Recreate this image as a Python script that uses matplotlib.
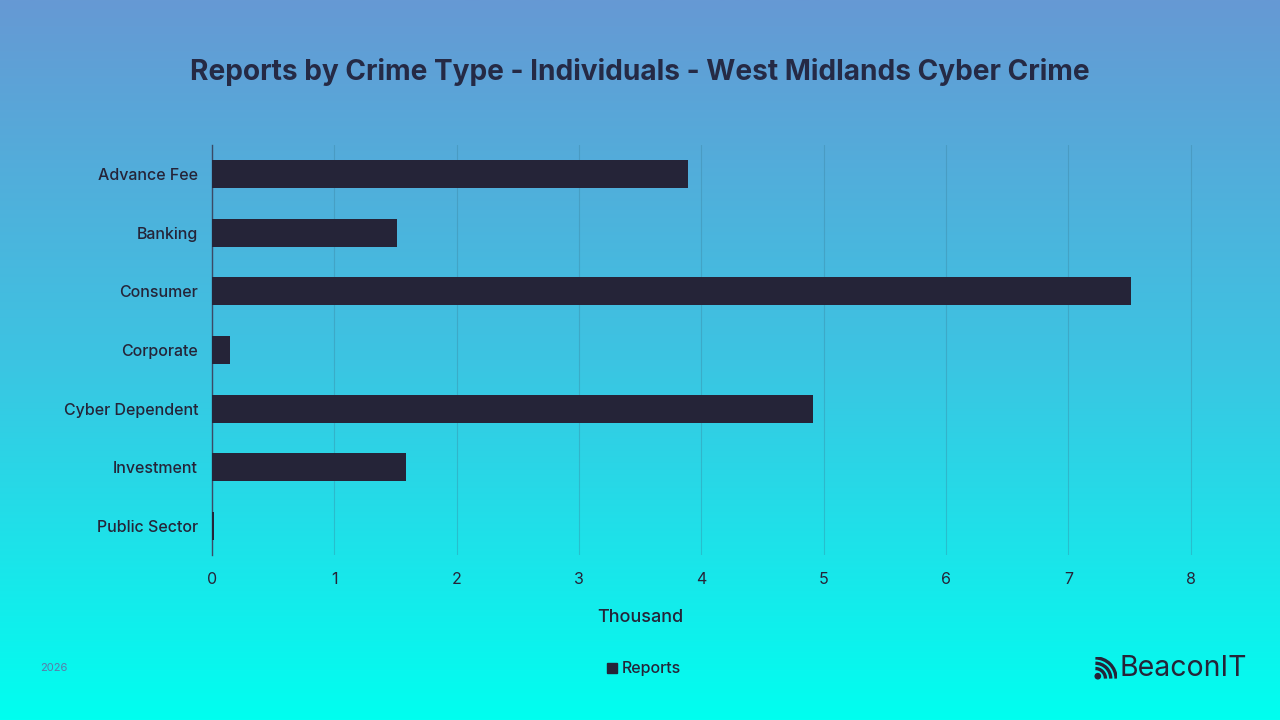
import numpy as np
import matplotlib.pyplot as plt
from matplotlib.patches import Arc, Circle

# ----------------------------------------------------------
# Data (thousands of reports)
# ----------------------------------------------------------
categories = ["Advance Fee", "Banking", "Consumer", "Corporate",
              "Cyber Dependent", "Investment", "Public Sector"]
reports = [3.89, 1.51, 7.51, 0.147, 4.91, 1.585, 0.016]
x_ticks = [0, 1, 2, 3, 4, 5, 6, 7, 8]

title = "Reports by Crime Type - Individuals - West Midlands Cyber Crime"
dark = "#252438"
plt.rcParams['font.family'] = ['Inter', 'DejaVu Sans']

fig = plt.figure(figsize=(12.8, 7.2), dpi=100)

# ----------------------------------------------------------
# Background gradient
# ----------------------------------------------------------
bg = fig.add_axes([0, 0, 1, 1], zorder=-10)
top = np.array([102, 153, 212]) / 255
mid = np.array([60, 196, 226]) / 255
bot = np.array([0, 255, 240]) / 255
t = np.linspace(0, 1, 400)[:, None]
grad = np.where(t < 0.5, top + (mid - top) * (t / 0.5), mid + (bot - mid) * ((t - 0.5) / 0.5))
bg.imshow(grad[:, None, :], aspect='auto', extent=[0, 1, 0, 1])
bg.set_axis_off()

# ----------------------------------------------------------
# Bars
# ----------------------------------------------------------
ax = fig.add_axes([212 / 1280, 1 - 555 / 720, 1040 / 1280, 410 / 720])
ax.patch.set_alpha(0)
y = np.arange(len(categories))
ax.barh(y, reports, height=0.48, color=dark, zorder=3)
ax.set_ylim(len(categories) - 0.5, -0.5)
ax.set_xlim(0, 8.5)
ax.set_yticks(y)
ax.set_yticklabels(categories, fontsize=11.5, color=dark, fontweight='medium')
ax.set_xticks(x_ticks)
ax.set_xticklabels([str(v) for v in x_ticks], fontsize=11.5, color=dark)
ax.tick_params(length=0, pad=10, axis='y')
ax.tick_params(length=0, pad=12, axis='x')
ax.grid(axis='x', color='#3a7f9a', alpha=0.35, linewidth=0.8, zorder=0)
for s in ['top', 'right', 'bottom']:
    ax.spines[s].set_visible(False)
ax.spines['left'].set_color('#3b4a66')
ax.spines['left'].set_linewidth(1)

# ----------------------------------------------------------
# Title, axis label, footer, legend, logo
# ----------------------------------------------------------
fig.text(0.5, 1 - 72 / 720, title, ha='center', va='center',
         fontsize=20.2, fontweight='bold', color='#252a45')
fig.text(0.5, 1 - 618 / 720, "Thousand", ha='center', va='center',
         fontsize=13, color=dark, fontweight='medium')
fig.text(40 / 1280, 1 - 668 / 720, "2026", ha='left', va='center',
         fontsize=8, color='#5a7aa8')
fig.patches.append(plt.Rectangle((607 / 1280, 1 - 673 / 720), 10 / 1280, 10 / 720,
                                 transform=fig.transFigure, color=dark))
fig.text(622 / 1280, 1 - 668 / 720, "Reports", ha='left', va='center',
         fontsize=11.5, color=dark, fontweight='medium')

# logo icon
lg = fig.add_axes([1093 / 1280, 1 - 681 / 720, 24 / 1280, 24 / 720])
lg.set_xlim(0, 1)
lg.set_ylim(0, 1)
lg.set_axis_off()
lg.add_patch(Circle((0.2, 0.2), 0.11, color=dark))
for r in [0.42, 0.64, 0.86]:
    lg.add_patch(Arc((0.1, 0.1), 2 * r, 2 * r, theta1=0, theta2=90, color=dark, linewidth=2.4))
fig.text(1119 / 1280, 1 - 668 / 720, "BeaconIT", ha='left', va='center',
         fontsize=20.5, color=dark)

fig.savefig("out.png", dpi=100)
